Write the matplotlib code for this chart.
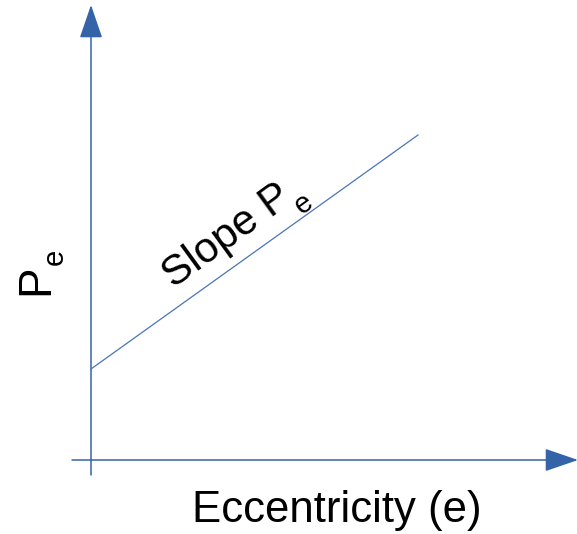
import matplotlib
matplotlib.use("Agg")
import matplotlib.pyplot as plt
from matplotlib.patches import FancyArrowPatch

plt.rcParams['font.family'] = ['Liberation Sans', 'DejaVu Sans']

# Data (schematic)
ecc = [0.0, 1.0]          # eccentricity values of the line ends
p_e = [0.28, 1.0]         # P_e at those ends
x_label = "Eccentricity (e)"
slope_text = "Slope P"
sub_text = "e"
y_text = "P"

W, H, DPI = 577, 534, 100
fig = plt.figure(figsize=(W / DPI, H / DPI), dpi=DPI)
ax = fig.add_axes([0, 0, 1, 1])
ax.set_axis_off()

ox, oy = 91, 460          # pixel origin
sx, sy = 327.0, 325.0     # pixels per unit
ax.set_xlim(-ox / sx, (W - ox) / sx)
ax.set_ylim(-(H - oy) / sy, oy / sy)

axis_col = '#3563a8'
line_col = '#4a74b8'

# axes arrows
def arrow(p0, p1):
    a = FancyArrowPatch(p0, p1, arrowstyle='-|>,head_length=21,head_width=7.2',
                        mutation_scale=1, color=axis_col, lw=1.1,
                        shrinkA=0, shrinkB=0)
    ax.add_patch(a)

arrow((0, -(475 - oy) / sy), (0, (oy - 5) / sy))
arrow(((72 - ox) / sx, 0), ((W + 1 - ox) / sx, 0))

# line
ax.plot(ecc, p_e, color=line_col, lw=0.9)

def fx(px):
    return px / W

def fy(py):
    return 1 - py / H

# labels
fig.text(fx(337), fy(522), x_label, fontsize=31.5, ha='center', va='baseline')
fig.text(fx(48), fy(295), y_text, fontsize=33, rotation=90,
         rotation_mode='anchor', ha='left', va='baseline')
fig.text(fx(63), fy(265), sub_text, fontsize=21, rotation=90,
         rotation_mode='anchor', ha='left', va='baseline')
fig.text(fx(174), fy(289), slope_text, fontsize=30.5, rotation=36,
         rotation_mode='anchor', ha='left', va='baseline')
fig.text(fx(302), fy(215), sub_text, fontsize=21, rotation=36,
         rotation_mode='anchor', ha='left', va='baseline')

fig.savefig('out.png', dpi=DPI)
